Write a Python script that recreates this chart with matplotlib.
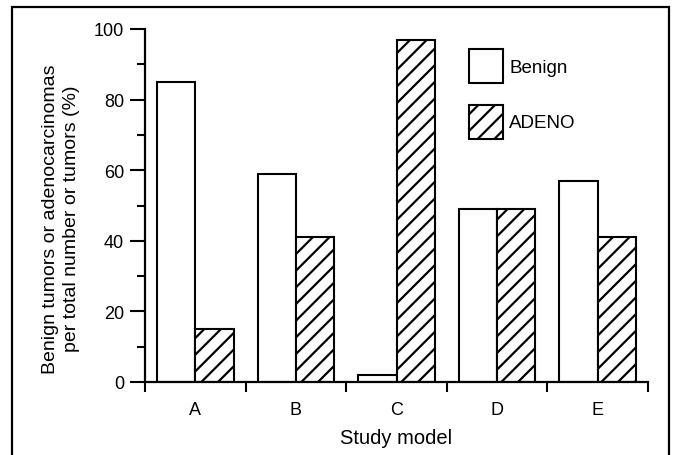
import numpy as np
import matplotlib
matplotlib.use("Agg")
from matplotlib import pyplot as plt
from matplotlib.patches import Rectangle

models = ["A", "B", "C", "D", "E"]
benign = [85, 59, 2, 49, 57]
adeno = [15, 41, 97, 49, 41]

plt.rcParams['font.family'] = ['Liberation Sans', 'DejaVu Sans']
plt.rcParams['hatch.linewidth'] = 1.6

fig = plt.figure(figsize=(6.73, 4.56), dpi=100)
ax = fig.add_axes([145/673, 73/456, (648-145)/673, (383-30)/456])

x = np.arange(len(models)) + 0.5
w = 0.38
ax.bar(x - w/2, benign, w, color='white', edgecolor='black', linewidth=1.5, label='Benign')
ax.bar(x + w/2, adeno, w, color='white', edgecolor='black', linewidth=1.5, hatch='//', label='ADENO')

ax.set_xlim(0, 5)
ax.set_ylim(0, 100)
ax.spines['top'].set_visible(False)
ax.spines['right'].set_visible(False)
ax.spines['left'].set_linewidth(1.6)
ax.spines['bottom'].set_linewidth(1.6)

# y ticks: major every 20, minor every 10
ax.set_yticks([0, 20, 40, 60, 80, 100])
ax.set_yticks([10, 30, 50, 70, 90], minor=True)
ax.tick_params(axis='y', which='major', length=11, width=1.5, pad=4, labelsize=13)
ax.tick_params(axis='y', which='minor', length=6, width=1.5)

# x: labels in group centres, ticks at group borders
ax.set_xticks(x)
ax.set_xticklabels(models)
ax.set_xticks(np.arange(0, 6), minor=True)
ax.tick_params(axis='x', which='major', length=0, pad=14, labelsize=13)
ax.tick_params(axis='x', which='minor', length=7, width=1.5)

ax.set_xlabel('Study model', fontsize=14.5, labelpad=7)
ax.set_ylabel('Benign tumors or adenocarcinomas\nper total number or tumors (%)',
              fontsize=14, linespacing=1.35)
ax.yaxis.set_label_coords(-0.129, 0.465)

# legend drawn as boxes in the upper right
ax.legend(loc='upper left', bbox_to_anchor=(0.61, 0.99), frameon=False, fontsize=13.5,
          handlelength=1.85, handleheight=2.4, labelspacing=1.15, handletextpad=0.3)

# frame round the whole figure
fig.patches.append(Rectangle((12/673, -0.05), (669-12)/673, 1.05 - 8/456,
                             transform=fig.transFigure, fill=False,
                             edgecolor='black', linewidth=1.6))

fig.savefig('out.png', dpi=100)
